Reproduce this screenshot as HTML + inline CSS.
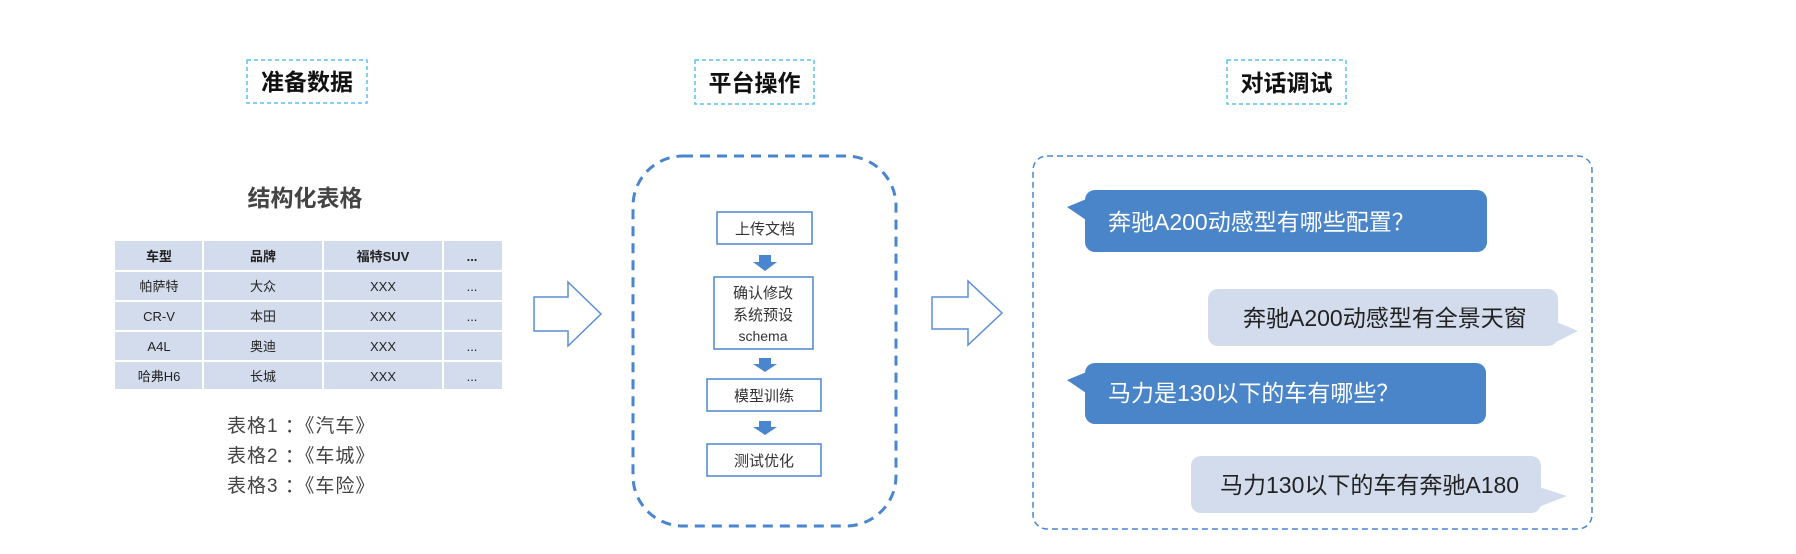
<!DOCTYPE html>
<html><head><meta charset="utf-8"><style>
html,body{margin:0;padding:0;background:#fff;}
svg{display:block;}
text{font-family:"Liberation Sans","Noto Sans CJK SC",sans-serif;}
</style></head><body>
<svg width="1796" height="554" viewBox="0 0 1796 554" xmlns="http://www.w3.org/2000/svg">
<rect width="1796" height="554" fill="#fff"/>
<!-- titles -->
<g fill="none" stroke="#5bc0eb" stroke-width="1.5" stroke-dasharray="4,3">
<rect x="247" y="60" width="120" height="43"/>
<rect x="695" y="60" width="119" height="44"/>
<rect x="1227" y="60" width="119" height="44"/>
</g>
<g font-size="23" font-weight="bold" fill="#111" text-anchor="middle">
<text x="307" y="90">准备数据</text>
<text x="754.5" y="91">平台操作</text>
<text x="1286.5" y="91">对话调试</text>
</g>
<!-- table -->
<text x="305" y="206" font-size="23" font-weight="bold" fill="#444" text-anchor="middle">结构化表格</text>
<rect x="115" y="241" width="387" height="148" fill="#d3dced"/>
<g stroke="#fff" stroke-width="2">
<line x1="203" y1="241" x2="203" y2="389"/><line x1="323" y1="241" x2="323" y2="389"/><line x1="443" y1="241" x2="443" y2="389"/>
<line x1="115" y1="271" x2="502" y2="271"/><line x1="115" y1="301" x2="502" y2="301"/><line x1="115" y1="331" x2="502" y2="331"/><line x1="115" y1="361" x2="502" y2="361"/>
</g>
<g font-size="13" fill="#222" text-anchor="middle">
<text x="159" y="261" font-weight="bold">车型</text><text x="263" y="261" font-weight="bold">品牌</text><text x="383" y="261" font-weight="bold">福特SUV</text><text x="472" y="261" font-weight="bold">...</text>
<text x="159" y="291">帕萨特</text><text x="263" y="291">大众</text><text x="383" y="291">XXX</text><text x="472" y="291">...</text>
<text x="159" y="321">CR-V</text><text x="263" y="321">本田</text><text x="383" y="321">XXX</text><text x="472" y="321">...</text>
<text x="159" y="351">A4L</text><text x="263" y="351">奥迪</text><text x="383" y="351">XXX</text><text x="472" y="351">...</text>
<text x="159" y="381">哈弗H6</text><text x="263" y="381">长城</text><text x="383" y="381">XXX</text><text x="472" y="381">...</text>
</g>
<g font-size="19" fill="#444" letter-spacing="1">
<text x="227" y="432">表格1 ：《汽车》</text>
<text x="227" y="462">表格2 ：《车城》</text>
<text x="227" y="492">表格3 ：《车险》</text>
</g>
<!-- hollow arrows -->
<g fill="#fff" stroke="#5b8fd6" stroke-width="1.5">
<polygon points="534,297 568,297 568,282 601,314 568,346 568,331 534,331"/>
<polygon points="932,297 968,297 968,281 1002,313 968,345 968,329 932,329"/>
</g>
<!-- middle dashed box -->
<rect x="633" y="156" width="263" height="370" rx="50" fill="none" stroke="#4a86cf" stroke-width="3" stroke-dasharray="10,7"/>
<g fill="#fff" stroke="#4a86cf" stroke-width="1.5">
<rect x="717" y="212" width="95" height="32"/>
<rect x="714" y="277" width="99" height="72"/>
<rect x="707" y="379" width="114" height="32"/>
<rect x="707" y="444" width="114" height="32"/>
</g>
<g fill="#4a86cf">
<polygon points="759,255 771,255 771,262 777,262 765,271 753,262 759,262"/>
<polygon points="759,358 771,358 771,364 777,364 765,372 753,364 759,364"/>
<polygon points="759,421 771,421 771,427 777,427 765,435 753,427 759,427"/>
</g>
<g font-size="15" fill="#333" text-anchor="middle">
<text x="765" y="234">上传文档</text>
<text x="763" y="298">确认修改</text>
<text x="763" y="320">系统预设</text>
<text x="763" y="341" font-size="14">schema</text>
<text x="764" y="401">模型训练</text>
<text x="764" y="466">测试优化</text>
</g>
<!-- right dashed box -->
<rect x="1033" y="156" width="559" height="373" rx="14" fill="none" stroke="#4a86cf" stroke-width="1.5" stroke-dasharray="6,4"/>
<g fill="#4a84c9">
<rect x="1085" y="190" width="402" height="62" rx="10"/>
<polygon points="1067,207 1089,198 1089,222"/>
<rect x="1085" y="363" width="401" height="61" rx="10"/>
<polygon points="1067,380 1089,371 1089,395"/>
</g>
<g fill="#d3dced">
<rect x="1208" y="289" width="350" height="57" rx="10"/>
<polygon points="1578,331 1552,320 1552,344"/>
<rect x="1191" y="456" width="350" height="57" rx="10"/>
<polygon points="1567,496 1536,486 1536,508"/>
</g>
<g font-size="23">
<text x="1108" y="230" fill="#fff">奔驰A200动感型有哪些配置？</text>
<text x="1243" y="326" fill="#222">奔驰A200动感型有全景天窗</text>
<text x="1108" y="401" fill="#fff">马力是130以下的车有哪些？</text>
<text x="1220" y="493" fill="#222">马力130以下的车有奔驰A180</text>
</g>
</svg>
</body></html>
